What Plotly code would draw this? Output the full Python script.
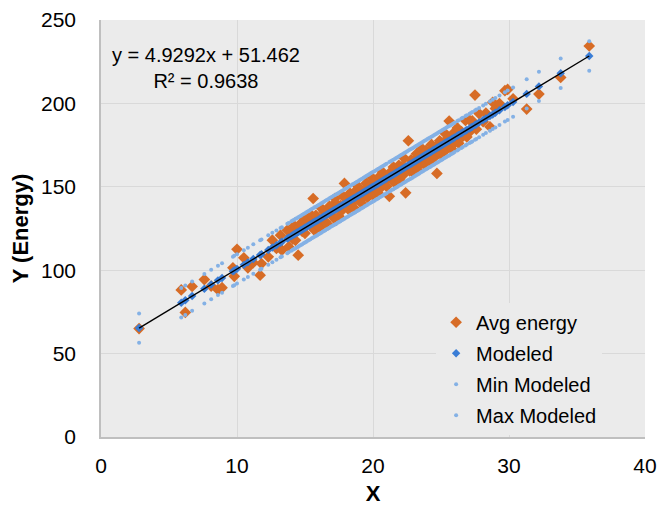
import plotly.graph_objects as go

# Trendline coefficients (least-squares fit of Avg energy on X)
SLOPE = 4.9292
INTERCEPT = 51.462
R_SQUARED = 0.9638

x_vals = [
    2.8, 5.9, 6.2, 6.7, 7.6, 8.1, 8.6, 8.9, 9.7, 9.8, 10.0, 10.5, 10.8, 11.2, 11.7, 11.8,
    12.3, 12.6, 12.9, 13.2, 13.3, 13.7, 13.8,
    14.0, 14.1, 14.2, 14.3, 14.4, 14.5, 14.6, 14.7, 14.8, 14.9,
    15.0, 15.1, 15.2, 15.3, 15.4, 15.5, 15.6, 15.7, 15.8, 15.9,
    16.0, 16.1, 16.2, 16.3, 16.4, 16.5, 16.6, 16.7, 16.8, 16.9,
    17.0, 17.1, 17.2, 17.3, 17.4, 17.5, 17.6, 17.7, 17.8, 17.9,
    18.0, 18.1, 18.2, 18.3, 18.4, 18.5, 18.6, 18.7, 18.8, 18.9,
    19.0, 19.1, 19.2, 19.3, 19.4, 19.5, 19.6, 19.7, 19.8, 19.9,
    20.0, 20.1, 20.2, 20.3, 20.4, 20.5, 20.6, 20.7, 20.8, 20.9,
    21.0, 21.2, 21.3, 21.4, 21.5, 21.6, 21.7, 21.8, 21.9,
    22.0, 22.1, 22.2, 22.3, 22.4, 22.5, 22.6, 22.7, 22.8, 22.9,
    23.0, 23.1, 23.2, 23.3, 23.4, 23.5, 23.6, 23.7, 23.8, 23.9,
    24.0, 24.1, 24.2, 24.3, 24.4, 24.5, 24.6, 24.7, 24.8, 24.9,
    25.0, 25.1, 25.2, 25.3, 25.4, 25.5, 25.6, 25.7, 25.8, 25.9,
    26.0, 26.2, 26.3, 26.5, 26.6, 26.8, 26.9, 27.1, 27.2, 27.3, 27.5, 27.6, 27.8,
    28.1, 28.3, 28.6, 28.8, 29.0, 29.3, 29.7, 29.9, 30.3, 31.3, 32.2, 33.8, 35.9,
]

avg_energy = [
    65.0, 88.2, 74.7, 90.3, 94.4, 90.5, 88.3, 89.5, 101.4, 96.3, 112.5, 107.4, 101.4, 104.5, 97.0, 104.0,
    108.0, 118.0, 113.0, 121.0, 112.0, 124.0, 114.0,
    123.6, 118.6, 126.7, 117.9, 123.2, 109.0, 126.0, 128.2, 123.2, 131.3,
    122.1, 128.1, 131.9, 128.4, 126.7, 132.7, 143.0, 123.9, 132.9, 127.0,
    130.6, 125.6, 137.2, 129.9, 135.0, 129.0, 134.4, 127.3, 138.4, 134.4,
    138.6, 131.4, 143.0, 130.0, 139.1, 132.3, 138.8, 135.7, 144.2, 152.0,
    138.7, 143.1, 136.5, 146.2, 139.6, 144.1, 137.4, 147.4, 143.2, 150.2,
    141.5, 147.6, 139.9, 147.1, 144.8, 152.2, 143.6, 150.3, 148.0, 155.7,
    145.0, 153.4, 149.0, 152.4, 146.0, 156.4, 149.6, 158.8, 152.4, 155.8,
    150.2, 144.3, 159.0, 153.8, 161.8, 152.4, 158.6, 156.2, 162.9,
    153.6, 162.0, 156.9, 167.1, 146.4, 161.1, 177.6, 159.5, 166.2, 159.2,
    165.5, 162.8, 169.8, 159.7, 168.6, 163.8, 172.9, 167.3, 163.1, 171.9,
    166.6, 170.7, 164.8, 175.4, 169.5, 167.6, 173.9, 158.0, 170.0, 177.6,
    169.4, 175.3, 172.8, 182.0, 172.4, 179.3, 189.4, 176.4, 172.5, 182.1,
    176.2, 185.3, 176.1, 183.1, 180.2, 189.8, 179.9, 190.0, 183.7, 189.6, 205.0, 184.5, 193.9,
    189.0, 194.2, 186.0, 200.7, 196.9, 199.9, 207.6, 208.4, 202.8, 196.6, 205.6, 215.6, 234.4,
]

modeled = [
    65.3, 80.5, 82.0, 84.5, 88.9, 91.4, 93.9, 95.3, 99.3, 99.8, 100.8, 103.2, 104.7, 106.7, 109.1, 109.6,
    112.1, 113.6, 115.0, 116.5, 117.0, 119.0, 119.5,
    120.5, 121.0, 121.5, 122.0, 122.4, 122.9, 123.4, 123.9, 124.4, 124.9,
    125.4, 125.9, 126.4, 126.9, 127.4, 127.9, 128.4, 128.9, 129.3, 129.8,
    130.3, 130.8, 131.3, 131.8, 132.3, 132.8, 133.3, 133.8, 134.3, 134.8,
    135.3, 135.8, 136.2, 136.7, 137.2, 137.7, 138.2, 138.7, 139.2, 139.7,
    140.2, 140.7, 141.2, 141.7, 142.2, 142.7, 143.1, 143.6, 144.1, 144.6,
    145.1, 145.6, 146.1, 146.6, 147.1, 147.6, 148.1, 148.6, 149.1, 149.6,
    150.0, 150.5, 151.0, 151.5, 152.0, 152.5, 153.0, 153.5, 154.0, 154.5,
    155.0, 156.0, 156.5, 157.0, 157.4, 157.9, 158.4, 158.9, 159.4,
    159.9, 160.4, 160.9, 161.4, 161.9, 162.4, 162.9, 163.4, 163.8, 164.3,
    164.8, 165.3, 165.8, 166.3, 166.8, 167.3, 167.8, 168.3, 168.8, 169.3,
    169.8, 170.3, 170.7, 171.2, 171.7, 172.2, 172.7, 173.2, 173.7, 174.2,
    174.7, 175.2, 175.7, 176.2, 176.7, 177.2, 177.6, 178.1, 178.6, 179.1,
    179.6, 180.6, 181.1, 182.1, 182.6, 183.6, 184.1, 185.0, 185.5, 186.0, 187.0, 187.5, 188.5,
    190.0, 191.0, 192.4, 193.4, 194.4, 195.9, 197.9, 198.9, 200.8, 205.7, 210.2, 218.1, 228.4,
]

min_modeled = [
    56.5, 71.7, 73.2, 75.7, 80.1, 82.6, 85.1, 86.5, 90.5, 91.0, 92.0, 94.4, 95.9, 97.9, 100.3, 100.8,
    103.3, 104.8, 106.2, 107.7, 108.2, 110.2, 110.7,
    111.7, 112.2, 112.7, 113.2, 113.6, 114.1, 114.6, 115.1, 115.6, 116.1,
    116.6, 117.1, 117.6, 118.1, 118.6, 119.1, 119.6, 120.1, 120.5, 121.0,
    121.5, 122.0, 122.5, 123.0, 123.5, 124.0, 124.5, 125.0, 125.5, 126.0,
    126.5, 127.0, 127.4, 127.9, 128.4, 128.9, 129.4, 129.9, 130.4, 130.9,
    131.4, 131.9, 132.4, 132.9, 133.4, 133.9, 134.3, 134.8, 135.3, 135.8,
    136.3, 136.8, 137.3, 137.8, 138.3, 138.8, 139.3, 139.8, 140.3, 140.8,
    141.2, 141.7, 142.2, 142.7, 143.2, 143.7, 144.2, 144.7, 145.2, 145.7,
    146.2, 147.2, 147.7, 148.2, 148.6, 149.1, 149.6, 150.1, 150.6,
    151.1, 151.6, 152.1, 152.6, 153.1, 153.6, 154.1, 154.6, 155.0, 155.5,
    156.0, 156.5, 157.0, 157.5, 158.0, 158.5, 159.0, 159.5, 160.0, 160.5,
    161.0, 161.5, 161.9, 162.4, 162.9, 163.4, 163.9, 164.4, 164.9, 165.4,
    165.9, 166.4, 166.9, 167.4, 167.9, 168.4, 168.8, 169.3, 169.8, 170.3,
    170.8, 171.8, 172.3, 173.3, 173.8, 174.8, 175.3, 176.2, 176.7, 177.2, 178.2, 178.7, 179.7,
    181.2, 182.2, 183.6, 184.6, 185.6, 187.1, 189.1, 190.1, 192.0, 196.9, 201.4, 209.3, 219.6,
]

max_modeled = [
    74.1, 89.3, 90.8, 93.3, 97.7, 100.2, 102.7, 104.1, 108.1, 108.6, 109.6, 112.0, 113.5, 115.5, 117.9, 118.4,
    120.9, 122.4, 123.8, 125.3, 125.8, 127.8, 128.3,
    129.3, 129.8, 130.3, 130.8, 131.2, 131.7, 132.2, 132.7, 133.2, 133.7,
    134.2, 134.7, 135.2, 135.7, 136.2, 136.7, 137.2, 137.7, 138.1, 138.6,
    139.1, 139.6, 140.1, 140.6, 141.1, 141.6, 142.1, 142.6, 143.1, 143.6,
    144.1, 144.6, 145.0, 145.5, 146.0, 146.5, 147.0, 147.5, 148.0, 148.5,
    149.0, 149.5, 150.0, 150.5, 151.0, 151.5, 151.9, 152.4, 152.9, 153.4,
    153.9, 154.4, 154.9, 155.4, 155.9, 156.4, 156.9, 157.4, 157.9, 158.4,
    158.8, 159.3, 159.8, 160.3, 160.8, 161.3, 161.8, 162.3, 162.8, 163.3,
    163.8, 164.8, 165.3, 165.8, 166.2, 166.7, 167.2, 167.7, 168.2,
    168.7, 169.2, 169.7, 170.2, 170.7, 171.2, 171.7, 172.2, 172.6, 173.1,
    173.6, 174.1, 174.6, 175.1, 175.6, 176.1, 176.6, 177.1, 177.6, 178.1,
    178.6, 179.1, 179.5, 180.0, 180.5, 181.0, 181.5, 182.0, 182.5, 183.0,
    183.5, 184.0, 184.5, 185.0, 185.5, 186.0, 186.4, 186.9, 187.4, 187.9,
    188.4, 189.4, 189.9, 190.9, 191.4, 192.4, 192.9, 193.8, 194.3, 194.8, 195.8, 196.3, 197.3,
    198.8, 199.8, 201.2, 202.2, 203.2, 204.7, 206.7, 207.7, 209.6, 214.5, 219.0, 226.9, 237.2,
]

n = len(x_vals)
assert all(len(s) == n for s in (avg_energy, modeled, min_modeled, max_modeled))

x_ticks = [0, 10, 20, 30, 40]
y_ticks = [0, 50, 100, 150, 200, 250]

ORANGE = "#D76C26"
BLUE = "#3A7DD6"
LIGHT_BLUE = "#84B1E5"
FONT = "Liberation Sans, Arial, sans-serif"

fig = go.Figure()

fig.add_trace(go.Scatter(
    x=x_vals, y=avg_energy, mode="markers", name="Avg energy", legendgroup="a",
    marker=dict(symbol="diamond", size=9, color=ORANGE, line=dict(width=0)),
))
fig.add_trace(go.Scatter(
    x=x_vals, y=modeled, mode="markers", name="Modeled", legendgroup="b",
    marker=dict(symbol="diamond", size=6.5, color=BLUE, line=dict(width=0)),
))
fig.add_trace(go.Scatter(
    x=x_vals, y=min_modeled, mode="markers", name="Min Modeled", legendgroup="c",
    marker=dict(symbol="circle", size=4, color=LIGHT_BLUE, line=dict(width=0)),
))
fig.add_trace(go.Scatter(
    x=x_vals, y=max_modeled, mode="markers", name="Max Modeled", legendgroup="d",
    marker=dict(symbol="circle", size=4, color=LIGHT_BLUE, line=dict(width=0)),
))

# Linear trendline over the data range
x_lo, x_hi = min(x_vals), max(x_vals)
fig.add_trace(go.Scatter(
    x=[x_lo, x_hi], y=[SLOPE * x_lo + INTERCEPT, SLOPE * x_hi + INTERCEPT],
    mode="lines", line=dict(color="#000000", width=1.4), showlegend=False, hoverinfo="skip",
))

fig.add_annotation(
    xref="paper", yref="paper", x=0.193, y=0.885,
    text=f"y = {SLOPE}x + {INTERCEPT}<br>R² = {R_SQUARED}",
    showarrow=False, align="center", xanchor="center", yanchor="middle",
    font=dict(family=FONT, size=20, color="#000000"),
)

axis_common = dict(
    showgrid=True, gridcolor="#D9D9D9", gridwidth=1, automargin=False,
    zeroline=False, showline=True, linecolor="#BFBFBF", linewidth=1.5,
    ticks="", tickfont=dict(family=FONT, size=21, color="#000000"),
)

fig.update_xaxes(
    range=[0, 40], tickvals=x_ticks, ticklabelstandoff=9,
    title=dict(text="<b>X</b>", font=dict(family=FONT, size=22, color="#000000"), standoff=10),
    **axis_common,
)
fig.update_yaxes(
    range=[0, 250], tickvals=y_ticks, ticklabelstandoff=19,
    title=dict(text="<b>Y (Energy)</b>", font=dict(family=FONT, size=22, color="#000000"), standoff=6),
    **axis_common,
)

fig.update_layout(
    width=658, height=506,
    margin=dict(l=101, r=13, t=20, b=69, autoexpand=False),
    paper_bgcolor="#FFFFFF", plot_bgcolor="#EBEBEB",
    font=dict(family=FONT, color="#000000"),
    legend=dict(
        x=0.616, y=0.322, xanchor="left", yanchor="top",
        bgcolor="#EBEBEB", borderwidth=0,
        font=dict(family=FONT, size=20, color="#000000"),
        itemsizing="trace", tracegroupgap=2,
    ),
)

fig.write_html("out.html")
